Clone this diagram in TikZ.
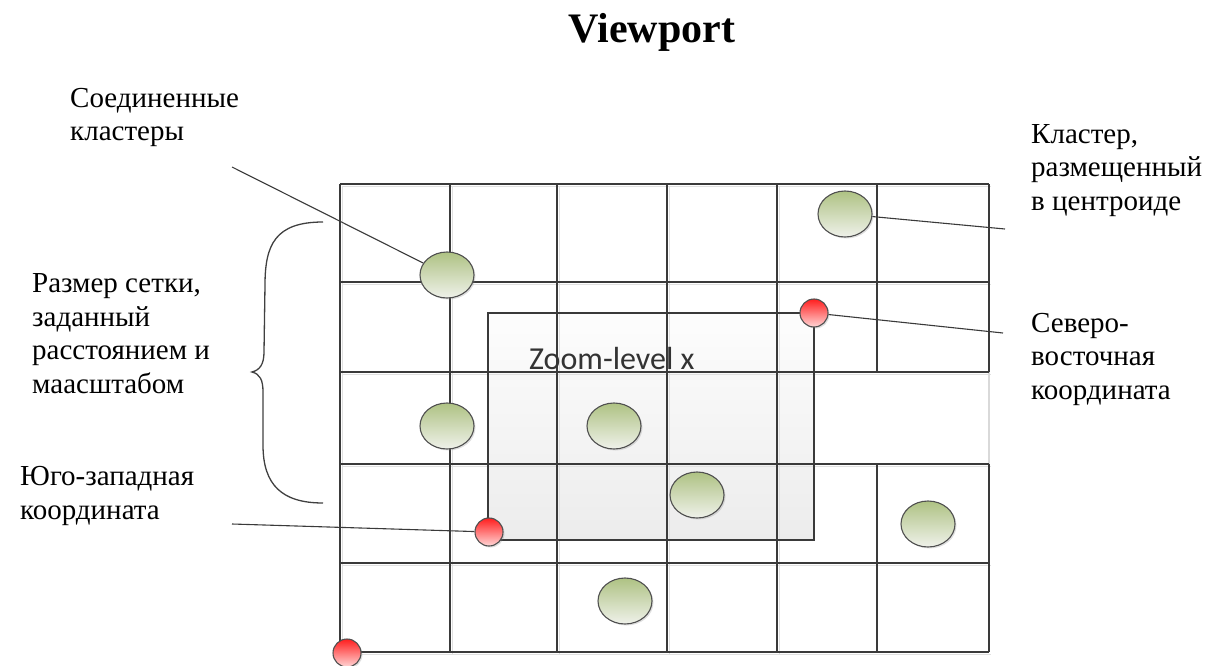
\documentclass[tikz,border=0pt]{standalone}
\usepackage{fontspec}
\setmainfont{Liberation Serif}
\newfontfamily\zoomfont{Carlito}
\usetikzlibrary{shapes.geometric,shadows}

\definecolor{gridgray}{HTML}{3A3A3A}
\definecolor{rimgray}{HTML}{505050}
\definecolor{greentop}{HTML}{AEC283}
\definecolor{greenbot}{HTML}{EFF1EA}
\definecolor{redtop}{HTML}{FF1E1E}
\definecolor{redbot}{HTML}{FFD6D6}
\definecolor{wintop}{HTML}{FDFDFD}
\definecolor{winbot}{HTML}{ECECEC}

\begin{document}
\begin{tikzpicture}[x=1pt,y=-1pt,
    gridline/.style={draw=gridgray, line width=1.3pt},
    gridshade/.style={draw=black!12, line width=1.3pt},
    cluster/.style={ellipse, draw=rimgray, line width=1.1pt, inner sep=0pt,
        minimum width=54pt, minimum height=46pt,
        top color=greentop, bottom color=greenbot,
        drop shadow={shadow xshift=1.5pt, shadow yshift=-1.5pt, opacity=0.25}},
    corner/.style={circle, draw=rimgray, line width=1.1pt, inner sep=0pt,
        minimum size=28pt, top color=redtop, bottom color=redbot,
        drop shadow={shadow xshift=1.5pt, shadow yshift=-1.5pt, opacity=0.25}},
    label/.style={anchor=base west, align=left, inner sep=0pt,
        font=\rmfamily\fontsize{29}{33.5}\selectfont},
    leader/.style={draw=gridgray, line width=1.1pt}]

    \useasboundingbox (0,0) rectangle (1207,666);

	% Title
	\node (title) [anchor=base, inner sep=0pt, font=\fontsize{42}{48}\selectfont\bfseries] at (652,43) {Viewport};

	% Zoom window
	\shade[top color=wintop, bottom color=winbot] (488,313) coordinate (w_nw) rectangle (814,540) coordinate (w_se);

	% Grid
	\foreach \x in {340,450,557,667,777}
	  \draw[gridshade] (\x+2.5,186) -- (\x+2.5,654);
	\foreach \y in {184,282,372,464,563,652}
	  \draw[gridshade] (342,\y+2.5) -- (991,\y+2.5);
	\foreach \x in {340,450,557,667,777}
	  \draw[gridline] (\x,184) -- (\x,652);
	\draw[gridline] (877,184) -- (877,372);
	\draw[gridline] (877,464) -- (877,652);
	\draw[gridline] (989,184) -- (989,372);
	\draw[draw=black!15, line width=1.3pt] (989,372) -- (989,464);
	\draw[gridline] (989,464) -- (989,652);
	\foreach \y in {184,282,372,464,563,652}
	  \draw[gridline] (340,\y) -- (989,\y);

	% Zoom window outline
	\draw[gridline] (w_nw) rectangle (w_se);
	\node (zoomtxt) [anchor=west, inner sep=0pt, text=black!80, font=\zoomfont\fontsize{32}{36}\selectfont] at (529,358) {Zoom-level x};

	% Brace
	\draw[draw=black!75, line width=1.3pt] (323,222) .. controls (275,222) and (265,245) .. (265,285)
	    -- (264,352) .. controls (264,364) and (260,370) .. (252,372)
	    .. controls (260,374) and (263,380) .. (263,392)
	    -- (263,445) .. controls (263,485) and (282,503) .. (323,503);

	% Clusters
	\node (c1) [cluster] at (447,275) {};
	\node (c2) [cluster] at (845,214) {};
	\node (c3) [cluster] at (447,426) {};
	\node (c4) [cluster] at (614,426) {};
	\node (c5) [cluster] at (697,495) {};
	\node (c6) [cluster] at (928,524) {};
	\node (c7) [cluster] at (625,601) {};

	% Corner points
	\node (ne) [corner] at (814,313) {};
	\node (sw) [corner] at (489,532) {};
	\node (bl) [corner] at (347,653) {};

	% Labels (base = last line)
	\node (l_joined) [label] at (70,141) {Соединенные\\кластеры};
	\node (l_centroid) [label] at (1031,210) {Кластер,\\размещенный\\в центроиде};
	\node (l_size) [label] at (32,393) {Размер сетки,\\заданный\\расстоянием и\\маасштабом};
	\node (l_ne) [label] at (1031,399) {Северо-\\восточная\\координата};
	\node (l_sw) [label] at (20,519) {Юго-западная\\координата};

	% Leaders
	\coordinate (e_joined) at (232,167);
	\coordinate (e_centroid) at (1005,229);
	\coordinate (e_ne) at (1003,333);
	\coordinate (e_sw) at (232,524);
	\draw[leader] (e_joined) -- (c1);
	\draw[leader] (c2) -- (e_centroid);
	\draw[leader] (ne) -- (e_ne);
	\draw[leader] (e_sw) -- (sw);

\end{tikzpicture}
\end{document}
